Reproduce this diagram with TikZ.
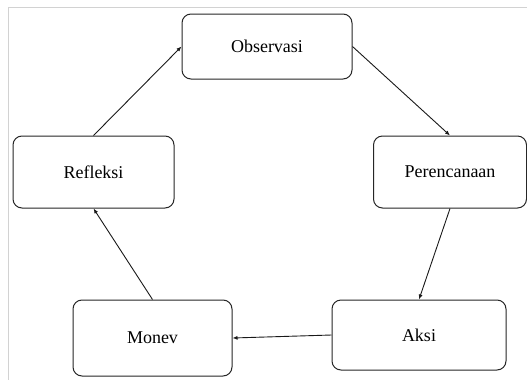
\documentclass[tikz,border=0pt]{standalone}
\usepackage{fontspec}
\setmainfont{Liberation Serif}
\usetikzlibrary{arrows.meta, positioning}

\begin{document}
\begin{tikzpicture}[x=1pt, y=-1pt,
        n/.style={draw=black!85, line width=1pt, rounded corners=9pt, fill=white, font=\fontsize{18}{20}\selectfont, inner sep=0pt},
        e/.style={-{Latex[length=5pt, width=4pt]}, line width=0.9pt, black!90}]
        \useasboundingbox (0,0) rectangle (527,380);
        \draw[gray!35, line width=0.8pt] (527,7) -- (8,7) -- (8,380);

        \draw node[n, minimum width=170pt, minimum height=65pt] (obs) at (267,46.5) {Observasi};
        \draw node[n, minimum width=153pt, minimum height=72pt] (ren) at (450,172) {Perencanaan};
        \draw node[n, minimum width=174pt, minimum height=70pt] (aks) at (419,335) {Aksi};
        \draw node[n, minimum width=159pt, minimum height=76pt] (mon) at (152.5,338) {Monev};
        \draw node[n, minimum width=161pt, minimum height=72pt] (ref) at (93.5,172) {Refleksi};

        \draw[e] (obs.east) -- (ren.north);
        \draw[e] (ren.south) -- (aks.north);
        \draw[e] (aks.west) -- (mon.east);
        \draw[e] (mon.north) -- (ref.south);
        \draw[e] (ref.north) -- (obs.west);
      \end{tikzpicture}
\end{document}
